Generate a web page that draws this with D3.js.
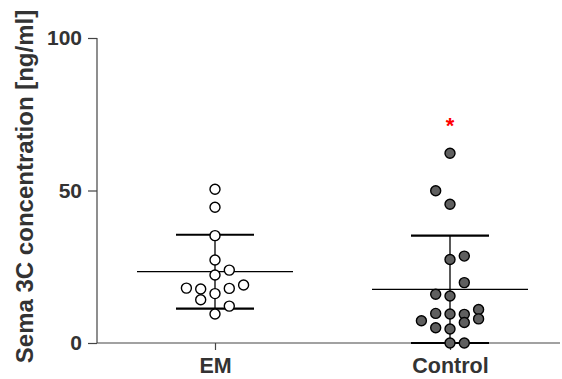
<!DOCTYPE html>
<meta charset="utf-8">
<html>
<head>
<style>
  body { margin: 0; background: #fff; }
  text { font-family: "Liberation Sans", Arial, sans-serif; font-weight: bold; }
</style>
</head>
<script src="https://d3js.org/d3.v7.min.js"></script>
<body>
<div id="vis"></div>
<script>
  // groups and values
  var groups = ["EM", "Control"];
  var emValues = [50.4, 44.5, 35.2, 27.2, 22.3, 23.9, 18.0, 17.7, 17.9, 19.0, 16.2, 14.2, 12.1, 9.5];
  var emLanes  = [0, 0, 0, 0, 0, 1, -2, -1, 1, 2, 0, -1, 1, 0];
  var ctrlValues = [62.2, 49.9, 45.5, 27.4, 28.5, 19.8, 16.0, 15.4, 9.7, 9.5, 9.4, 11.0, 7.3, 6.7, 7.9, 5.0, 4.6, 0, 0];
  var ctrlLanes  = [0, -1, 0, 0, 1, 1, -1, 0, -1, 0, 1, 2, -2, 1, 2, -1, 0, 0, 1];
  var means = [23.4, 17.6];
  var sds = [12.1, 17.6];
  var yTicks = [0, 50, 100];
  var starValue = 72;

  var margin = {top: 38, right: 2, bottom: 36, left: 97},
      width = 562 - margin.left - margin.right,
      height = 379 - margin.top - margin.bottom;

  var svg = d3.select("#vis").append("svg")
    .attr("width", 562)
    .attr("height", 379)
    .append("g")
    .attr("transform", "translate(" + margin.left + "," + margin.top + ")");

  var y = d3.scaleLinear().domain([0, 100]).range([height, 0]);
  var x = d3.scalePoint().domain(groups).range([118, 353]);
  var lane = d3.scaleLinear().domain([0, 1]).range([0, 14.3]);

  var yAxis = svg.append("g")
    .call(d3.axisLeft(y).tickValues(yTicks).tickSize(9).tickPadding(6).tickFormat(d3.format("d")));
  var xAxis = svg.append("g")
    .attr("transform", "translate(0," + height + ")")
    .call(d3.axisBottom(x).tickSize(7).tickPadding(8).tickSizeOuter(0));

  svg.selectAll(".domain, .tick line").attr("stroke", "#444").attr("stroke-width", 1.2);
  yAxis.selectAll("text").attr("font-size", 21).attr("fill", "#333");
  xAxis.selectAll("text").attr("font-size", 21.5).attr("fill", "#333");
  yAxis.select(".domain").attr("d", "M0," + height + "V0");
  xAxis.select(".domain").attr("d", "M0,0H" + width);

  svg.append("text")
    .attr("transform", "rotate(-90)")
    .attr("x", -(height / 2) + 4)
    .attr("y", -64)
    .attr("text-anchor", "middle")
    .attr("font-size", 24)
    .attr("fill", "#333")
    .text("Sema 3C concentration [ng/ml]");

  var series = [
    {name: "EM", values: emValues, lanes: emLanes, fill: "#fff"},
    {name: "Control", values: ctrlValues, lanes: ctrlLanes, fill: "#5f5f5f"}
  ];

  // mean +/- SD bars
  series.forEach(function(s, i) {
    var cx = x(s.name);
    var g = svg.append("g").attr("stroke", "#000");
    g.append("line")
      .attr("x1", cx).attr("x2", cx)
      .attr("y1", y(means[i] + sds[i])).attr("y2", y(Math.max(0, means[i] - sds[i])))
      .attr("stroke-width", 1.3);
    g.append("line")
      .attr("x1", cx - 78).attr("x2", cx + 78)
      .attr("y1", y(means[i])).attr("y2", y(means[i]))
      .attr("stroke-width", 1.3);
    [means[i] + sds[i], Math.max(0, means[i] - sds[i])].forEach(function(v) {
      g.append("line")
        .attr("x1", cx - 39).attr("x2", cx + 39)
        .attr("y1", y(v)).attr("y2", y(v))
        .attr("stroke-width", 2.2);
    });
  });

  series.forEach(function(s) {
    svg.append("g").selectAll("circle")
      .data(s.values)
      .enter().append("circle")
      .attr("cx", function(d, j) { return x(s.name) + lane(s.lanes[j]); })
      .attr("cy", function(d) { return y(d); })
      .attr("r", 5)
      .attr("fill", s.fill)
      .attr("stroke", "#000")
      .attr("stroke-width", 1.4);
  });

  svg.append("text")
    .attr("x", x("Control"))
    .attr("y", y(starValue) + 10)
    .attr("text-anchor", "middle")
    .attr("font-size", 22)
    .attr("fill", "#ff0000")
    .text("*");
</script>
</body>
</html>
